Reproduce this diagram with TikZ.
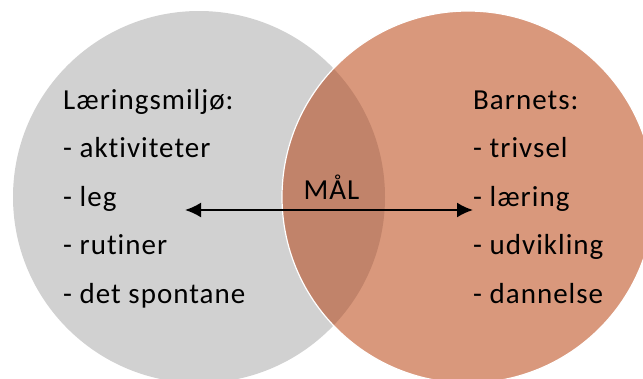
\documentclass[tikz,border=0pt]{standalone}
\usepackage{fontspec}
\setmainfont{Carlito}[Ligatures=NoCommon, LetterSpace=3.5]
\usetikzlibrary{arrows.meta}
\definecolor{miljogra}{RGB}{209,209,209}
\definecolor{barnoransje}{RGB}{217,152,124}
\definecolor{felles}{RGB}{193,131,106}

\begin{document}
\begin{tikzpicture}[x=1pt, y=-1pt,
% circles
sirkel/.style={circle, minimum size=372pt, inner sep=0},
miljo/.style={sirkel, fill=miljogra},
barn/.style={sirkel, fill=barnoransje},
kant/.style={draw=white, line width=1.2pt},
% text
tekst/.style={font=\fontsize{29}{34}\selectfont, inner sep=0},
liste/.style={tekst, anchor=base west},
% arrow
pil/.style={line width=2pt, {Latex[length=16pt, width=15pt]}-{Latex[length=16pt, width=15pt]}}
]

\useasboundingbox (0,0) rectangle (643,378);

% CIRCLES
\node[miljo] (laering) at (199,197) {};
\node[barn] (barnet) at (468,197) {};
\begin{scope}
\clip (laering.center) circle (186);
\fill[felles] (barnet.center) circle (186);
\end{scope}
\draw[kant] (barnet.center) circle (186);

% LISTS
\foreach \t [count=\i from 0] in {Læringsmiljø:, - aktiviteter, - leg, - rutiner, - det spontane}
  \node[liste] (v\i) at (63, 109 + \i * 48.5) {\t};
\foreach \t [count=\i from 0] in {Barnets:, - trivsel, - læring, - udvikling, - dannelse}
  \node[liste] (h\i) at (473, 109 + \i * 48.5) {\t};

% GOAL
\node[tekst, anchor=base] (maal) at (331.5,199) {MÅL};
\coordinate (pilV) at (185,210);
\coordinate (pilH) at (473,210);
\draw[pil] (pilV) -- (pilH);

\end{tikzpicture}
\end{document}
